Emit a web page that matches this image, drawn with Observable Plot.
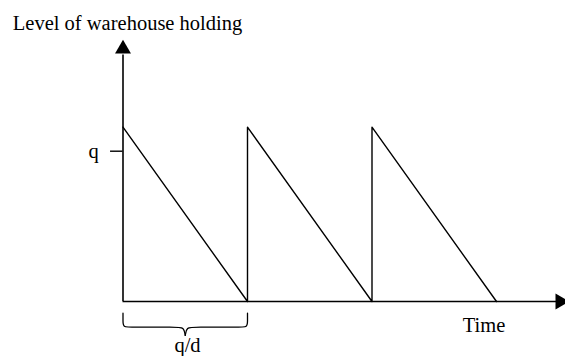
<!DOCTYPE html>
<html>
<head>
<meta charset="utf-8">
<script src="https://cdn.jsdelivr.net/npm/d3@7"></script>
<script src="https://cdn.jsdelivr.net/npm/@observablehq/plot@0.6"></script>
<style>
  body { margin: 0; background: #fff; }
</style>
</head>
<body>
<div id="chart"></div>
<script>
// Sawtooth of warehouse holding (time in units of q/d, level in units of q)
const times  = [0, 1, 1, 2, 2, 3];
const levels = [1.16, 0, 1.16, 0, 1.16, 0];

// axis extents
const yAxisTop = 1.64;
const xAxisEnd = 3.5;

// labels
const yTitle = "Level of warehouse holding";
const xTitle = "Time";
const qLabel = "q";
const qValue = 1;
const cycleLabel = "q/d";
const cycleLength = 1;

const saw = times.map((t, i) => ({t, level: levels[i]}));

// brace under the first cycle
const bt = -0.078, bm = -0.171, bp = -0.226, c = cycleLength / 2;
const braceLeft = [
  {t: 0, v: bt}, {t: 0, v: -0.13}, {t: 0, v: bm}, {t: 0.065, v: bm},
  {t: c - 0.075, v: bm}, {t: c - 0.01, v: bm}, {t: c, v: bp}
];
const braceRight = braceLeft.map(d => ({t: cycleLength - d.t, v: d.v}));

const font = "'Liberation Serif', 'Times New Roman', serif";
const fs = 20.5;

const chart = Plot.plot({
  width: 565,
  height: 356,
  marginLeft: 0, marginRight: 0, marginTop: 0, marginBottom: 0,
  x: {domain: [-122.5 / 124.5, (565 - 122.5) / 124.5], axis: null},
  y: {domain: [-55 / 150.3, 301 / 150.3], axis: null},
  style: {fontFamily: font, background: "#fff"},
  marks: [
    // axes
    Plot.ruleX([0], {y1: 0, y2: yAxisTop, stroke: "#000", strokeWidth: 1.6}),
    Plot.ruleY([0], {x1: 0, x2: xAxisEnd, stroke: "#000", strokeWidth: 1.6}),
    Plot.dot([{t: 0, v: 1.68}], {x: "t", y: "v", symbol: "triangle2", r: 7.6, fill: "#000", stroke: null}),
    Plot.dot([{t: 3.511, v: 0}], {x: "t", y: "v", symbol: "triangle2", r: 7.6, fill: "#000", stroke: null, rotate: 90}),
    // q tick
    Plot.ruleY([qValue], {x1: -0.1, x2: 0, stroke: "#000", strokeWidth: 1.4}),
    Plot.text([qLabel], {x: -0.235, y: qValue, text: d => d, fontSize: fs, fill: "#000", lineAnchor: "middle"}),
    // sawtooth
    Plot.line(saw, {x: "t", y: "level", stroke: "#000", strokeWidth: 1.4}),
    // brace
    Plot.line(braceLeft, {x: "t", y: "v", curve: "basis", stroke: "#000", strokeWidth: 1.3}),
    Plot.line(braceRight, {x: "t", y: "v", curve: "basis", stroke: "#000", strokeWidth: 1.3}),
    Plot.text([cycleLabel], {x: c + 0.018, y: -0.295, text: d => d, fontSize: fs, fill: "#000", lineAnchor: "middle"}),
    // titles
    Plot.text([xTitle], {x: 2.9, y: -0.16, text: d => d, fontSize: fs, fill: "#000", lineAnchor: "middle"}),
    Plot.text([yTitle], {x: -0.885, y: 1.85, text: d => d, fontSize: fs, fill: "#000", textAnchor: "start", lineAnchor: "middle"})
  ]
});
document.getElementById("chart").appendChild(chart);
</script>
</body>
</html>
